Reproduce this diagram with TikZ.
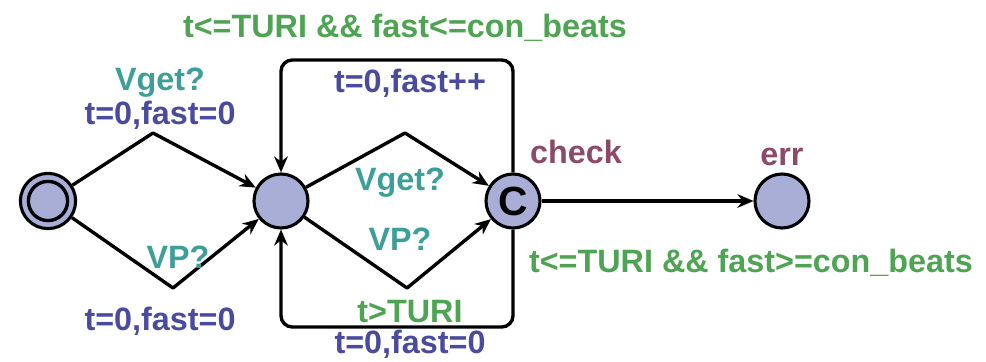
\documentclass[tikz,border=0pt]{standalone}
\usepackage{fontspec}
\setmainfont{Liberation Sans}
\usepackage{tikz}
\usetikzlibrary{arrows.meta}
\definecolor{locfill}{HTML}{A8AED6}
\definecolor{syncc}{HTML}{3E9E98}
\definecolor{updc}{HTML}{4A4A9E}
\definecolor{guardc}{HTML}{4EA452}
\definecolor{namec}{HTML}{8A4A6C}

\begin{document}
\begin{tikzpicture}[font=\bfseries\fontsize{23}{27}\selectfont,loc/.style={circle,draw=black,line width=2.2pt,fill=locfill,minimum size=1.35cm,inner sep=0pt},edge/.style={-{Stealth[length=4mm,width=3.4mm]},line width=2.4pt,line join=round},sync/.style={text=syncc,anchor=base},upd/.style={text=updc,anchor=base},guard/.style={text=guardc,anchor=base},locname/.style={text=namec,anchor=base}]
\useasboundingbox (0,0) rectangle (24.65,9.025);
\node[loc,minimum size=1.38cm] (init) at (1.2,4) {};
\node[circle,draw=black,line width=2.4pt,minimum size=0.98cm,inner sep=0pt] (initin) at (init) {};
\node[loc] (idle) at (7.025,4) {};
\node[loc,font=\bfseries\fontsize{29}{29}\selectfont] (check) at (12.825,4) {C};
\node[loc] (err) at (19.55,4) {};
\coordinate (ua) at (3.825,5.7);
\coordinate (la) at (4.325,1.825);
\coordinate (ub) at (10.125,5.7);
\coordinate (lb) at (10.175,1.825);
\coordinate (topl) at (0,7.525);
\coordinate (botl) at (0,0.85);
\draw[edge] (init) -- (ua) -- (idle);
\draw[edge] (init) -- (la) -- (idle);
\draw[edge] (idle) -- (ub) -- (check);
\draw[edge] (idle) -- (lb) -- (check);
\draw[edge,rounded corners=8pt] (check.north) -- (check.north |- topl) -- (idle.north |- topl) -- (idle.north);
\draw[edge,rounded corners=8pt] (check.south) -- (check.south |- botl) -- (idle.south |- botl) -- (idle.south);
\draw[edge] (check) -- (err);
\node[guard] (g1) at (10.125,8.1) {t<=TURI \&\& fast<=con\_beats};
\node[sync] (s1) at (4.0,6.775) {Vget?};
\node[upd] (a1) at (4.0,5.925) {t=0,fast=0};
\node[upd] (a2) at (10.25,6.725) {t=0,fast++};
\node[sync] (s2) at (10.0,4.275) {Vget?};
\node[sync] (s3) at (10.0,2.775) {VP?};
\node[sync] (s4) at (4.45,2.325) {VP?};
\node[upd] (a3) at (4.0,0.775) {t=0,fast=0};
\node[guard] (g2) at (10.25,0.97) {t>TURI};
\node[upd] (a4) at (10.25,0.2) {t=0,fast=0};
\node[locname] (n1) at (14.4,4.95) {check};
\node[locname] (n2) at (19.55,4.9) {err};
\node[guard] (g3) at (18.775,2.225) {t<=TURI \&\& fast>=con\_beats};
\end{tikzpicture}
\end{document}
